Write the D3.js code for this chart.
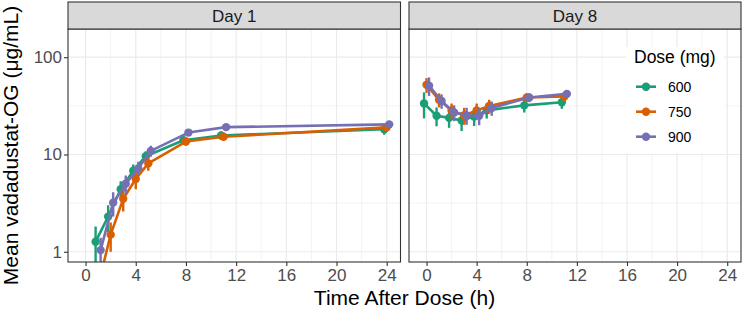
<!DOCTYPE html>
<html>
<head>
<meta charset="utf-8">
<script src="https://cdn.jsdelivr.net/npm/d3@7"></script>
<style>
  body { margin: 0; background: #fff; }
  text { font-family: "Liberation Sans", Arial, sans-serif; }
</style>
</head>
<body>
<div id="chart"></div>
<script>
// nominal sampling times (h)
var day1Times = [1, 2, 3, 4, 5, 8, 11, 24]
var day8Times = [0, 1, 2, 3, 4, 5, 8, 11]

var doses = ["600", "750", "900"]
var colors = ["#1B9E77", "#D95F02", "#7570B3"]

// mean concentrations (ug/mL)
var day1Mean600 = [1.27, 2.3, 4.4, 6.8, 9.6, 14.0, 15.7, 18.2]
var day1Mean750 = [0.45, 1.5, 3.5, 5.6, 8.1, 13.6, 15.2, 19.0]
var day1Mean900 = [1.04, 3.2, 5.0, 7.2, 10.9, 16.8, 19.1, 20.4]
var day8Mean600 = [33.5, 25.0, 23.8, 22.4, 24.6, 28.4, 32.0, 34.5]
var day8Mean750 = [52.0, 36.5, 28.4, 25.2, 28.4, 31.5, 38.5, 39.5]
var day8Mean900 = [51.0, 35.5, 27.0, 25.2, 25.0, 30.0, 38.5, 42.0]

// error bar half-widths (ug/mL)
var day1Err600 = [0.55, 0.7, 0.9, 1.1, 1.2, 1.3, 1.5, 2.2]
var day1Err750 = [0.3, 0.5, 0.9, 1.2, 1.3, 1.2, 1.2, 1.8]
var day1Err900 = [0.35, 0.9, 1.1, 1.2, 1.4, 1.3, 1.3, 1.5]
var day8Err600 = [10, 5.5, 5, 5, 5, 5, 5, 5]
var day8Err750 = [9, 6, 5, 5, 5, 5, 4, 4]
var day8Err900 = [11, 6, 5, 5, 5, 5, 4, 4]

var panels = [
    {label: "Day 1", times: day1Times, means: [day1Mean600, day1Mean750, day1Mean900], errs: [day1Err600, day1Err750, day1Err900]},
    {label: "Day 8", times: day8Times, means: [day8Mean600, day8Mean750, day8Mean900], errs: [day8Err600, day8Err750, day8Err900]}
]

var xTicks = [0, 4, 8, 12, 16, 20, 24]
var xMinor = [2, 6, 10, 14, 18, 22]
var yTicks = [1, 10, 100]
var yMinor = [Math.sqrt(10), Math.sqrt(1000)]

var W = 744, H = 310
var panelTop = 29, panelBottom = 262, stripTop = 2
var panelX = [[68, 400.5], [409, 741]]
var dodge = [-0.2, 0, 0.2]
var font = "Liberation Sans, Arial, sans-serif"

var svg = d3.select("#chart").append("svg")
    .attr("width", W).attr("height", H)

var y = d3.scaleLog().domain([0.785, 195]).range([panelBottom, panelTop])

panels.forEach(function(p, pi) {
    var x0 = panelX[pi][0], x1 = panelX[pi][1]
    var x = d3.scaleLinear().domain([-1.4, 25.1]).range([x0, x1])
    var g = svg.append("g")
    var clipId = "clip" + pi
    svg.append("clipPath").attr("id", clipId)
        .append("rect").attr("x", x0).attr("y", panelTop).attr("width", x1 - x0).attr("height", panelBottom - panelTop)

    // grid
    g.selectAll(".vmin").data(xMinor).enter().append("line")
        .attr("x1", d => x(d)).attr("x2", d => x(d)).attr("y1", panelTop).attr("y2", panelBottom)
        .attr("stroke", "#EBEBEB").attr("stroke-width", 0.6)
    g.selectAll(".hmin").data(yMinor).enter().append("line")
        .attr("x1", x0).attr("x2", x1).attr("y1", d => y(d)).attr("y2", d => y(d))
        .attr("stroke", "#EBEBEB").attr("stroke-width", 0.6)
    g.selectAll(".vmaj").data(xTicks).enter().append("line")
        .attr("x1", d => x(d)).attr("x2", d => x(d)).attr("y1", panelTop).attr("y2", panelBottom)
        .attr("stroke", "#EBEBEB").attr("stroke-width", 1.2)
    g.selectAll(".hmaj").data(yTicks).enter().append("line")
        .attr("x1", x0).attr("x2", x1).attr("y1", d => y(d)).attr("y2", d => y(d))
        .attr("stroke", "#EBEBEB").attr("stroke-width", 1.2)

    // data
    var dg = g.append("g").attr("clip-path", "url(#" + clipId + ")")
    p.means.forEach(function(vals, si) {
        var pts = vals.map(function(v, i) {
            return {t: p.times[i] + dodge[si], v: v, e: p.errs[si][i]}
        })
        var line = d3.line().x(d => x(d.t)).y(d => y(d.v))
        dg.append("path").datum(pts).attr("d", line)
            .attr("fill", "none").attr("stroke", colors[si]).attr("stroke-width", 2.6)
            .attr("stroke-linejoin", "round")
        dg.selectAll(".eb" + si).data(pts).enter().append("line")
            .attr("x1", d => x(d.t)).attr("x2", d => x(d.t))
            .attr("y1", d => y(Math.max(d.v - d.e, 0.1))).attr("y2", d => y(d.v + d.e))
            .attr("stroke", colors[si]).attr("stroke-width", 2.4)
        dg.selectAll(".pt" + si).data(pts).enter().append("circle")
            .attr("cx", d => x(d.t)).attr("cy", d => y(d.v)).attr("r", 4.2)
            .attr("fill", colors[si])
    })

    // border
    g.append("rect").attr("x", x0).attr("y", panelTop).attr("width", x1 - x0).attr("height", panelBottom - panelTop)
        .attr("fill", "none").attr("stroke", "#333333").attr("stroke-width", 1.1)

    // strip
    g.append("rect").attr("x", x0).attr("y", stripTop).attr("width", x1 - x0).attr("height", panelTop - stripTop)
        .attr("fill", "#D9D9D9").attr("stroke", "#333333").attr("stroke-width", 1.1)
    g.append("text").attr("x", (x0 + x1) / 2).attr("y", 21.5)
        .attr("text-anchor", "middle").attr("font-size", 17).attr("fill", "#1A1A1A").text(p.label)

    // x axis
    var xa = g.append("g").attr("transform", "translate(0," + panelBottom + ")")
        .call(d3.axisBottom(x).tickValues(xTicks).tickSize(4).tickPadding(3))
    xa.select(".domain").remove()
    xa.selectAll("line").attr("stroke", "#333333").attr("stroke-width", 1.1)
    xa.selectAll("text").attr("font-size", 17).attr("fill", "#4D4D4D").style("font-family", font)

    if (pi === 0) {
        var ya = g.append("g").attr("transform", "translate(" + x0 + ",0)")
            .call(d3.axisLeft(y).tickValues(yTicks).tickFormat(d3.format("d")).tickSize(4).tickPadding(2))
        ya.select(".domain").remove()
        ya.selectAll("line").attr("stroke", "#333333").attr("stroke-width", 1.1)
        ya.selectAll("text").attr("font-size", 17).attr("fill", "#4D4D4D").style("font-family", font)
    }
})

// axis titles
svg.append("text").attr("x", 404.5).attr("y", 305)
    .attr("text-anchor", "middle").attr("font-size", 21).attr("fill", "#000").text("Time After Dose (h)")
svg.append("text")
    .attr("transform", "translate(18," + (panelTop + panelBottom) / 2 + ") rotate(-90)")
    .attr("text-anchor", "middle").attr("font-size", 21).attr("fill", "#000").text("Mean vadadustat-OG (μg/mL)")

// legend
var lg = svg.append("g")
lg.append("rect").attr("x", 626).attr("y", 47).attr("width", 98).attr("height", 106).attr("fill", "#fff")
lg.append("text").attr("x", 634).attr("y", 63.3).attr("font-size", 17.5).attr("fill", "#000").text("Dose (mg)")
doses.forEach(function(d, i) {
    var ky = 86.7 + i * 25
    lg.append("line").attr("x1", 636).attr("x2", 656).attr("y1", ky).attr("y2", ky)
        .attr("stroke", colors[i]).attr("stroke-width", 2.6)
    lg.append("circle").attr("cx", 646).attr("cy", ky).attr("r", 4.2).attr("fill", colors[i])
    lg.append("text").attr("x", 668).attr("y", ky + 5).attr("font-size", 14).attr("fill", "#000").text(d)
})
</script>
</body>
</html>
